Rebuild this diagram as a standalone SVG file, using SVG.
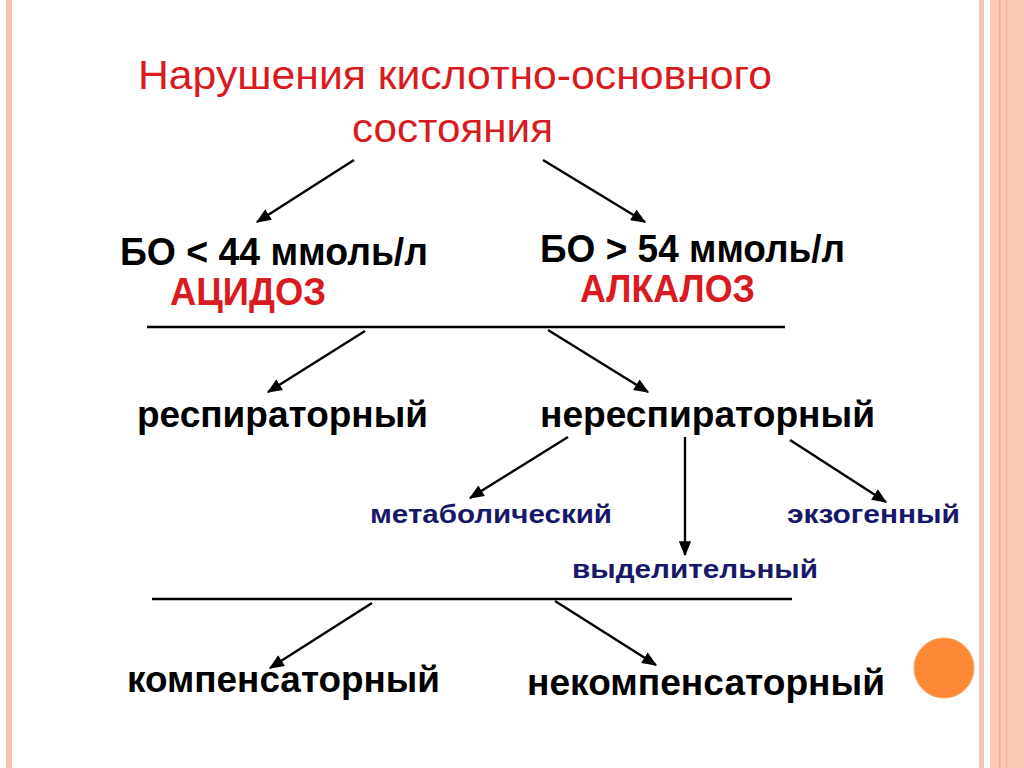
<svg xmlns="http://www.w3.org/2000/svg" width="1024" height="768" viewBox="0 0 1024 768">
<defs>
<marker id="ah" viewBox="0 0 12 10" refX="11" refY="5" markerWidth="6.4" markerHeight="5.2" markerUnits="strokeWidth" orient="auto">
<path d="M0,0 L12,5 L0,10 Z" fill="#000"/>
</marker>
<style>
.t{font-family:"Liberation Sans",Arial,sans-serif}
.red{fill:#d91a20}
.b{font-weight:bold}
.blk{fill:#000}
.nav{fill:#17186a}
.con line{stroke:#000;stroke-width:2.4}
.arr{marker-end:url(#ah)}
</style>
</defs>
<rect x="0" y="0" width="1024" height="768" fill="#fff"/>
<rect x="6" y="0" width="6" height="768" fill="#f4c2ae"/>
<rect x="979" y="0" width="5" height="768" fill="#f3c6b4"/>
<rect x="990" y="0" width="34" height="768" fill="#fec9b2"/>
<rect x="999" y="0" width="1.5" height="768" fill="#eeaa8e"/>
<rect x="1006" y="0" width="1.5" height="768" fill="#f3b89f"/>
<circle cx="944" cy="668" r="30" fill="#fe8a38" stroke="#ffa060" stroke-width="1"/>

<g id="title">
<text class="t red" x="138" y="89" font-size="40" textLength="634" lengthAdjust="spacingAndGlyphs">Нарушения кислотно-основного</text>
<text class="t red" x="352" y="142" font-size="40" textLength="201" lengthAdjust="spacingAndGlyphs">состояния</text>
</g>
<g id="acidosis">
<text class="t b blk" x="120" y="265" font-size="38" textLength="308" lengthAdjust="spacingAndGlyphs">БО &lt; 44 ммоль/л</text>
<text class="t b red" x="170" y="305" font-size="38" textLength="156" lengthAdjust="spacingAndGlyphs">АЦИДОЗ</text>
</g>
<g id="alkalosis">
<text class="t b blk" x="540" y="262" font-size="38" textLength="305" lengthAdjust="spacingAndGlyphs">БО &gt; 54 ммоль/л</text>
<text class="t b red" x="580" y="302" font-size="38" textLength="175" lengthAdjust="spacingAndGlyphs">АЛКАЛОЗ</text>
</g>
<g id="resp">
<text class="t b blk" x="137" y="427" font-size="36" textLength="291" lengthAdjust="spacingAndGlyphs">респираторный</text>
</g>
<g id="nonresp">
<text class="t b blk" x="540" y="427" font-size="36" textLength="335" lengthAdjust="spacingAndGlyphs">нереспираторный</text>
</g>
<g id="metab">
<text class="t b nav" x="370" y="523" font-size="26" textLength="242" lengthAdjust="spacingAndGlyphs">метаболический</text>
</g>
<g id="exo">
<text class="t b nav" x="787" y="523" font-size="26" textLength="173" lengthAdjust="spacingAndGlyphs">экзогенный</text>
</g>
<g id="excr">
<text class="t b nav" x="572" y="578" font-size="26" textLength="246" lengthAdjust="spacingAndGlyphs">выделительный</text>
</g>
<g id="comp">
<text class="t b blk" x="127" y="692" font-size="36" textLength="313" lengthAdjust="spacingAndGlyphs">компенсаторный</text>
</g>
<g id="noncomp">
<text class="t b blk" x="527" y="695" font-size="36" textLength="358" lengthAdjust="spacingAndGlyphs">некомпенсаторный</text>
</g>

<g id="connectors" class="con">
<line x1="147" y1="327" x2="785" y2="327" stroke-width="3"/>
<line x1="152" y1="599" x2="792" y2="599" stroke-width="3"/>
<line class="arr" x1="354" y1="160" x2="257" y2="222"/>
<line class="arr" x1="543" y1="160" x2="645" y2="222"/>
<line class="arr" x1="365" y1="331" x2="268" y2="392"/>
<line class="arr" x1="548" y1="330" x2="648" y2="392"/>
<line class="arr" x1="568" y1="437" x2="470" y2="498"/>
<line class="arr" x1="685" y1="437" x2="685" y2="555"/>
<line class="arr" x1="790" y1="440" x2="886" y2="502"/>
<line class="arr" x1="372" y1="603" x2="270" y2="668"/>
<line class="arr" x1="555" y1="601" x2="656" y2="665"/>
</g>
</svg>
